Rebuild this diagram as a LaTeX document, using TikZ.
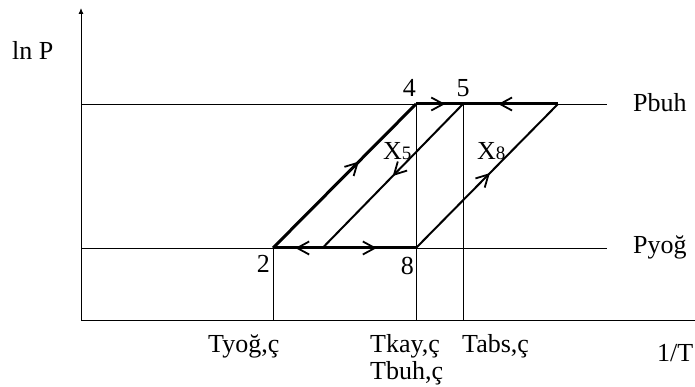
\documentclass[tikz,border=0pt]{standalone}
\usepackage{fontspec}
\setmainfont{Liberation Serif}
\usetikzlibrary{arrows.meta, positioning, decorations.markings}

\begin{document}
\begin{tikzpicture}[x=1pt, y=1pt,
        thin line/.style = {line width=0.9pt},
        mid line/.style = {line width=2pt},
        bold line/.style = {line width=3pt},
        flow/.style = {postaction={decorate}, decoration={markings,
            mark=at position #1 with {\arrow{Straight Barb[length=12pt, width=13pt, line width=1.8pt]}}}},
        lbl/.style = {inner sep=0pt, font=\fontsize{26}{30}\selectfont}]
            \useasboundingbox (-81,-67) rectangle (614,320);

            % axes
            \coordinate (O) at (0,0);
            \coordinate (ytop) at (0,312);
            \coordinate (xend) at (614,0);
            \draw[thin line, -{Latex[length=6pt, width=5pt]}] (O) -- (ytop);
            \draw[thin line] (O) -- (xend);

            % pressure levels
            \coordinate (buhL) at (0,216);
            \coordinate (buhR) at (526,216);
            \coordinate (yogL) at (0,72);
            \coordinate (yogR) at (526,72);
            \draw[thin line] (buhL) -- (buhR);
            \draw[thin line] (yogL) -- (yogR);

            % cycle points
            \coordinate (p2) at (192,72);
            \coordinate (pm) at (241.5,72);
            \coordinate (p8) at (335,72);
            \coordinate (p4) at (335,216);
            \coordinate (p5) at (382,216);
            \coordinate (pr) at (477,216);

            \coordinate (t2) at (192,0);
            \coordinate (t4) at (335,0);
            \coordinate (t5) at (382,0);
            \draw[thin line] (p2) -- (t2);
            \draw[thin line] (p4) -- (t4);
            \draw[thin line] (p5) -- (t5);

            \draw[bold line, flow=0.6] (p2) -- (p4);
            \draw[bold line, flow=0.62] (p4) -- (p5);
            \draw[bold line, flow=0.63] (pr) -- (p5);
            \draw[bold line, flow=0.55] (pm) -- (p2);
            \draw[bold line, flow=0.58] (pm) -- (p8);
            \draw[mid line, flow=0.5] (p5) -- (pm);
            \draw[mid line, flow=0.52] (p8) -- (pr);

            % labels
            \node[lbl, anchor=base west] (lnP) at (-69,260) {ln P};
            \node[lbl, above left=7pt and 0pt of p4] (n4) {4};
            \node[lbl, above=7pt of p5] (n5) {5};
            \node[lbl, below left=7pt and 3pt of p2] (n2) {2};
            \node[lbl, below left=9pt and 2pt of p8] (n8) {8};
            \node[lbl, anchor=base west] (x5) at (302,160) {X{\fontsize{19}{20}\selectfont 5}};
            \node[lbl, anchor=base west] (x8) at (396,160) {X{\fontsize{19}{20}\selectfont 8}};
            \node[lbl, anchor=base west] (Pbuh) at (552,208) {Pbuh};
            \node[lbl, anchor=base west] (Pyog) at (552,66) {Pyoğ};
            \node[lbl, anchor=base west] (Tyog) at (127,-33) {Tyoğ,ç};
            \node[lbl, anchor=base west] (Tkay) at (289,-33) {Tkay,ç};
            \node[lbl, anchor=base west] (Tbuh) at (289,-60) {Tbuh,ç};
            \node[lbl, anchor=base west] (Tabs) at (381,-33) {Tabs,ç};
            \node[lbl, anchor=base west] (invT) at (576,-42) {1/T};
        \end{tikzpicture}
\end{document}
